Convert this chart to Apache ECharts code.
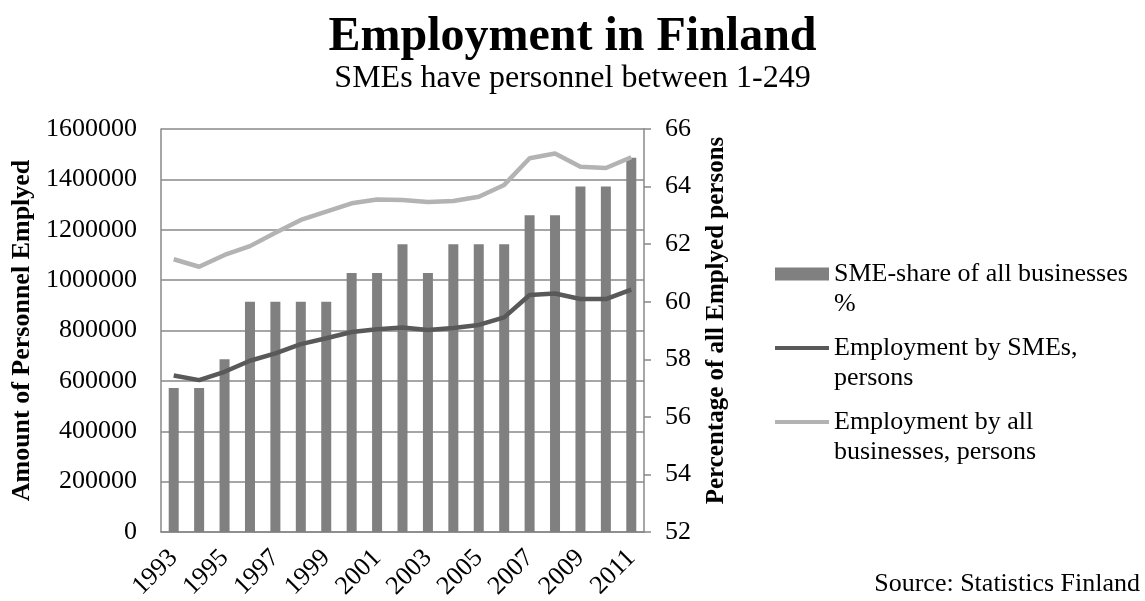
<!DOCTYPE html>
<html>
<head>
<meta charset="utf-8">
<script src="https://cdn.jsdelivr.net/npm/echarts@6/dist/echarts.min.js"></script>
<style>
html,body{margin:0;padding:0;background:#fff;}
#chart{width:1145px;height:601px;}
</style>
</head>
<body>
<div id="chart"></div>
<script>
var years = ['1993','1994','1995','1996','1997','1998','1999','2000','2001','2002','2003','2004','2005','2006','2007','2008','2009','2010','2011'];
var smeShare = [57, 57, 58, 60, 60, 60, 60, 61, 61, 62, 61, 62, 62, 62, 63, 63, 64, 64, 65];
var smeEmployment = [621000, 603000, 636000, 680000, 709000, 746000, 769000, 794000, 805000, 812000, 802000, 810000, 822000, 852000, 941000, 947000, 925000, 925000, 962000];
var allEmployment = [1083000, 1053000, 1100000, 1135000, 1188000, 1239000, 1272000, 1305000, 1320000, 1318000, 1310000, 1314000, 1331000, 1378000, 1484000, 1503000, 1450000, 1445000, 1488000];
var seriesNames = ['SME-share of all businesses %', 'Employment by SMEs, persons', 'Employment by all businesses, persons'];
var legendLabels = ['SME-share of all businesses\n%', 'Employment by SMEs,\npersons', 'Employment by all\nbusinesses, persons'];

var FONT = "'Liberation Serif', 'Times New Roman', serif";
var LINE_ICON = 'path://M0,0 L54,0 L54,4 L0,4 Z';
var chart = echarts.init(document.getElementById('chart'), null, {renderer: 'canvas'});
var option = {
  animation: false,
  backgroundColor: '#ffffff',
  title: [
    {text: 'Employment in Finland', left: 'center', top: 9,
     textStyle: {fontFamily: FONT, fontSize: 48, fontWeight: 'bold', color: '#000'}},
    {text: 'SMEs have personnel between 1-249', left: 'center', top: 58,
     textStyle: {fontFamily: FONT, fontSize: 32, fontWeight: 'normal', color: '#000'}}
  ],
  legend: {
    orient: 'vertical',
    left: 775,
    top: 229,
    padding: 0,
    itemWidth: 54,
    itemHeight: 13,
    itemGap: -16,
    symbolKeepAspect: true,
    data: [
      {name: seriesNames[0], icon: 'rect'},
      {name: seriesNames[1], icon: LINE_ICON},
      {name: seriesNames[2], icon: LINE_ICON}
    ],
    formatter: function (name) {
      return '\n' + legendLabels[seriesNames.indexOf(name)];
    },
    textStyle: {fontFamily: FONT, fontSize: 26, color: '#000', lineHeight: 30}
  },
  grid: {left: 161, right: 501, top: 129, bottom: 69, containLabel: false, outerBoundsMode: 'none'},
  xAxis: {
    type: 'category',
    data: years,
    boundaryGap: true,
    axisLine: {show: true, lineStyle: {color: '#888', width: 1.5}},
    axisTick: {show: false},
    axisLabel: {interval: 1, rotate: 45, margin: 22, fontFamily: FONT, fontSize: 26, color: '#000'}
  },
  yAxis: [
    {
      type: 'value', min: 0, max: 1600000, interval: 200000,
      name: 'Amount of Personnel Emplyed', nameLocation: 'middle', nameGap: 126, nameRotate: 90,
      nameTextStyle: {fontFamily: FONT, fontSize: 26, fontWeight: 'bold', color: '#000'},
      axisLine: {show: true, lineStyle: {color: '#888', width: 1.5}},
      axisTick: {show: false},
      axisLabel: {margin: 24, fontFamily: FONT, fontSize: 26, color: '#000',
                  formatter: function (v) { return String(v); }},
      splitLine: {show: true, lineStyle: {color: '#888', width: 1.5}}
    },
    {
      type: 'value', min: 52, max: 66, interval: 2, position: 'right',
      name: 'Percentage of all Emplyed persons', nameLocation: 'middle', nameGap: 60, nameRotate: 90,
      nameTextStyle: {fontFamily: FONT, fontSize: 25, fontWeight: 'bold', color: '#000', padding: [0, 0, 0, 20]},
      axisLine: {show: true, lineStyle: {color: '#888', width: 1.5}},
      axisTick: {show: true, length: 7, inside: false, lineStyle: {color: '#888', width: 1.5}},
      axisLabel: {margin: 21, fontFamily: FONT, fontSize: 26, color: '#000'},
      splitLine: {show: false}
    }
  ],
  series: [
    {
      name: seriesNames[0], type: 'bar', yAxisIndex: 1, data: smeShare,
      barWidth: 10, itemStyle: {color: '#808080'}, z: 2
    },
    {
      name: seriesNames[1], type: 'line', yAxisIndex: 0, data: smeEmployment,
      showSymbol: false, symbol: 'none', lineStyle: {color: '#595959', width: 4.5},
      itemStyle: {color: '#595959'}, z: 3
    },
    {
      name: seriesNames[2], type: 'line', yAxisIndex: 0, data: allEmployment,
      showSymbol: false, symbol: 'none', lineStyle: {color: '#b3b3b3', width: 4.5},
      itemStyle: {color: '#b3b3b3'}, z: 3
    }
  ],
  graphic: [
    {type: 'text', right: 5, top: 571,
     style: {text: 'Source: Statistics Finland', font: '26px ' + FONT, fill: '#000'}}
  ]
};
chart.setOption(option);
</script>
</body>
</html>
